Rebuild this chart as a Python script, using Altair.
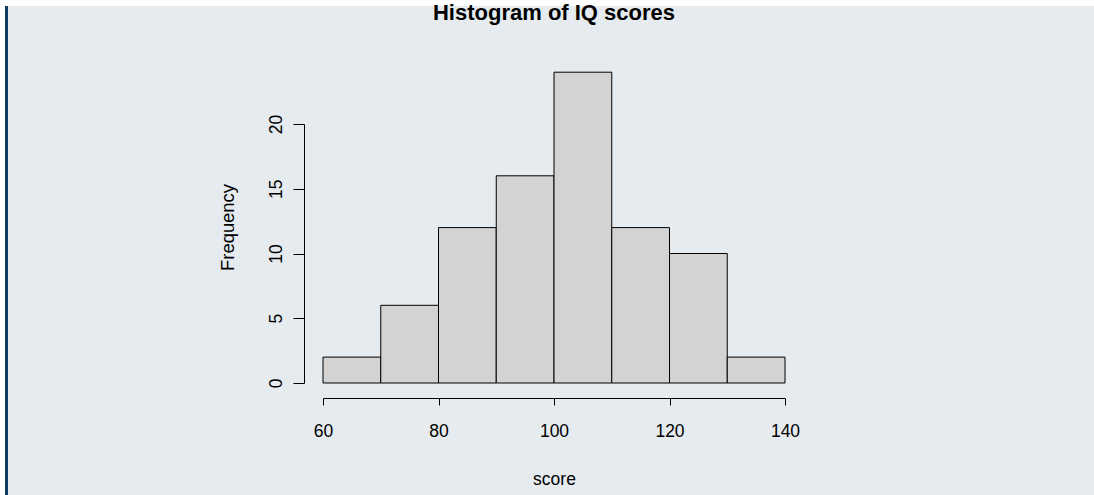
import altair as alt
import pandas as pd

# Histogram data
bin_start = [60, 70, 80, 90, 100, 110, 120, 130]
bin_end = [70, 80, 90, 100, 110, 120, 130, 140]
counts = [2, 6, 12, 16, 24, 12, 10, 2]
x_ticks = [60, 80, 100, 120, 140]
y_ticks = [0, 5, 10, 15, 20]

df = pd.DataFrame({"start": bin_start, "end": bin_end, "count": counts})

W, H = 462, 259
PAD_L, PAD_T = 323, 124
TOTAL_W, TOTAL_H = 1094, 495
BG = "#e6ebf0"
FONT = "Liberation Sans"

# panel background and left accent bar (page decoration)
deco = pd.DataFrame({"d": [0]})
panel = alt.Chart(deco).mark_rect(color=BG).encode(
    x=alt.value(5 - PAD_L), x2=alt.value(TOTAL_W - PAD_L),
    y=alt.value(6 - PAD_T), y2=alt.value(TOTAL_H - PAD_T),
)
accent = alt.Chart(deco).mark_rule(color="#0f3c64", strokeWidth=3).encode(
    x=alt.value(6.5 - PAD_L),
    y=alt.value(6 - PAD_T), y2=alt.value(TOTAL_H - PAD_T),
)
title = alt.Chart(pd.DataFrame({"t": ["Histogram of IQ scores"]})).mark_text(
    font=FONT, fontSize=22, fontWeight="bold", color="black",
    align="center", baseline="alphabetic",
).encode(text="t:N", x=alt.value(W / 2), y=alt.value(20 - PAD_T))

x_scale = alt.Scale(domain=[60, 140], nice=False, zero=False)
y_scale = alt.Scale(domain=[0, 20], nice=False)

bars = alt.Chart(df).mark_bar(
    fill="#d3d3d3", stroke="black", strokeWidth=1
).encode(
    x=alt.X("start:Q", scale=x_scale, title="score",
            axis=alt.Axis(values=x_ticks, offset=15, tickSize=7, grid=False,
                          zindex=1,
                          domainColor="black", tickColor="black",
                          labelFontSize=17.5, labelColor="black", labelPadding=17,
                          labelFont=FONT, titleFont=FONT, titleFontSize=17.5,
                          titleFontWeight="normal", titleColor="black",
                          titlePadding=31, labelFlush=False)),
    x2="end:Q",
    y=alt.Y("count:Q", scale=y_scale, title="Frequency",
            axis=alt.Axis(values=y_ticks, offset=19, tickSize=11, grid=False,
                          zindex=1,
                          domainColor="black", tickColor="black",
                          labelAngle=270, labelFontSize=17.5, labelColor="black",
                          labelPadding=8, labelFont=FONT, titleFont=FONT,
                          titleFontSize=18.4, titleFontWeight="normal",
                          titleColor="black", titlePadding=30,
                          titleY=103, labelFlush=False)),
    y2=alt.datum(0),
)

chart = alt.layer(panel, accent, bars, title).properties(
    width=W, height=H,
    padding={"left": PAD_L, "top": PAD_T,
             "right": TOTAL_W - PAD_L - W, "bottom": TOTAL_H - PAD_T - H},
    autosize=alt.AutoSizeParams(type="none"),
    background="white",
).configure_view(stroke=None)

chart.save("out.html", embed_options={"renderer": "svg", "actions": False})
